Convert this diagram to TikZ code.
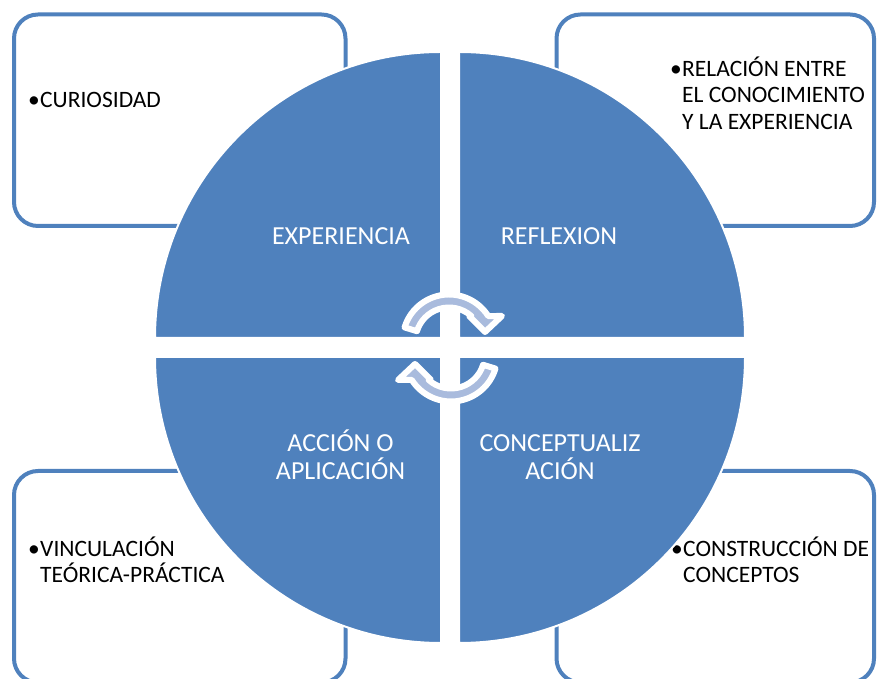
\documentclass[tikz,border=0pt]{standalone}
\usepackage{fontspec}
\setmainfont{Carlito}
\usepackage{tikz}
\usetikzlibrary{positioning}
\definecolor{CycleBlue}{HTML}{4F81BD}
\definecolor{TurnBlue}{HTML}{A9BBDD}

\begin{document}
\begin{tikzpicture}[line cap=round,line join=round,x=1pt,y=1pt,
  notebox/.style={draw=CycleBlue,line width=4pt,rounded corners=24pt},
  quarter/.style={fill=CycleBlue,draw=white,line width=2pt},
  cyclelabel/.style={text=white,font=\fontsize{26}{28}\selectfont,inner sep=0pt,anchor=base},
  notetext/.style={text=black,font=\fontsize{23.5}{26.5}\selectfont,inner sep=0pt,anchor=base west},
  bulletmark/.style={text=black,font=\fontsize{23.5}{26.5}\selectfont,inner sep=0pt,anchor=base east},
  turn/.style={fill=TurnBlue,draw=white,line width=6pt}]
\useasboundingbox (0,0) rectangle (877,679);
\clip (0,0) rectangle (877,679);
% boxes behind the circle
\draw[notebox] (14,453) rectangle (345.5,664.5);
\draw[notebox] (556.5,453) rectangle (874,664.5);
\draw[notebox] (14,-3.5) rectangle (345.5,208);
\draw[notebox] (556.5,-3.5) rectangle (874,208);
\node[notetext] (curiosidad) at (40,571) {CURIOSIDAD};
\node[bulletmark] at (curiosidad.base west) {\textbullet};
\node[notetext] (relacion1) at (682,602) {RELACIÓN ENTRE};
\node[notetext] (relacion2) at (682,576) {EL CONOCIMIENTO};
\node[notetext] (relacion3) at (682,549) {Y LA EXPERIENCIA};
\node[bulletmark] at (relacion1.base west) {\textbullet};
\node[notetext] (vinculo1) at (40,122) {VINCULACIÓN};
\node[notetext] (vinculo2) at (40,96) {TEÓRICA-PRÁCTICA};
\node[bulletmark] at (vinculo1.base west) {\textbullet};
\node[notetext] (construc1) at (683,122) {CONSTRUCCIÓN DE};
\node[notetext] (construc2) at (683,96) {CONCEPTOS};
\node[bulletmark] at (construc1.base west) {\textbullet};
% the four quarters
\filldraw[quarter] (441,341) -- (155,341) arc[start angle=180,end angle=90,radius=286] -- cycle;
\filldraw[quarter] (459,341) -- (459,627) arc[start angle=90,end angle=0,radius=286] -- cycle;
\filldraw[quarter] (441,322) -- (155,322) arc[start angle=180,end angle=270,radius=286] -- cycle;
\filldraw[quarter] (459,322) -- (745,322) arc[start angle=0,end angle=-90,radius=286] -- cycle;
\node[cyclelabel] (experiencia) at (341,434) {EXPERIENCIA};
\node[cyclelabel] (reflexion) at (559,434) {REFLEXION};
\node[cyclelabel] (accion1) at (340.5,227) {ACCIÓN O};
\node[cyclelabel] (accion2) at (340.5,199) {APLICACIÓN};
\node[cyclelabel] (concepto1) at (560,227) {CONCEPTUALIZ};
\node[cyclelabel] (concepto2) at (560,199) {ACIÓN};
% turning arrows in the middle
\foreach \turnangle in {0,180}
  \filldraw[turn,shift={(450,331)},rotate=\turnangle,shift={(-1,7)}]
    (163:46.5) arc[start angle=163,end angle=32.5,radius=46.5] -- (53,25) -- (36,9) -- (20,25)
    -- (48.2:33.5) arc[start angle=48.2,end angle=163,radius=33.5] -- cycle;
\end{tikzpicture}
\end{document}
